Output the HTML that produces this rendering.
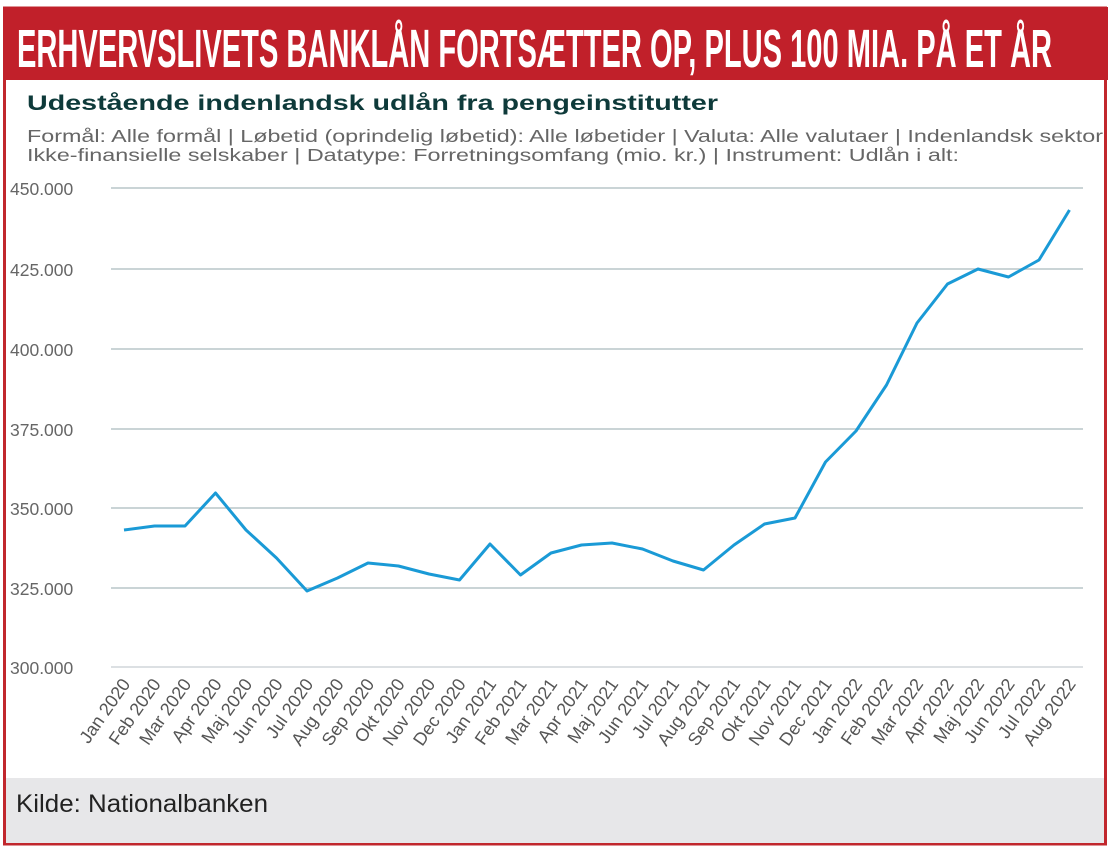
<!DOCTYPE html>
<html><head><meta charset="utf-8"><style>
html,body{margin:0;padding:0;background:#fff;}
svg{display:block;}
</style></head><body>
<svg width="1110" height="849" viewBox="0 0 1110 849" xmlns="http://www.w3.org/2000/svg">
<rect x="0" y="0" width="1110" height="849" fill="#fff"/>
<rect x="4.5" y="8" width="1101" height="836" fill="none" stroke="#c1272d" stroke-width="3"/>
<rect x="3" y="7" width="1105" height="73" fill="#c1202a"/>
<text x="17" y="67" font-family="'Liberation Sans Narrow','Liberation Sans',sans-serif" font-weight="bold" font-size="54" fill="#fff" textLength="1035" lengthAdjust="spacingAndGlyphs">ERHVERVSLIVETS BANKLÅN FORTSÆTTER OP, PLUS 100 MIA. PÅ ET ÅR</text>
<text x="27" y="110" font-family="'Liberation Sans',sans-serif" font-weight="bold" font-size="21" fill="#0e3a3a" textLength="691" lengthAdjust="spacingAndGlyphs">Udestående indenlandsk udlån fra pengeinstitutter</text>
<text x="27" y="142" font-family="'Liberation Sans',sans-serif" font-size="17.5" fill="#666" textLength="1076" lengthAdjust="spacingAndGlyphs">Formål: Alle formål | Løbetid (oprindelig løbetid): Alle løbetider | Valuta: Alle valutaer | Indenlandsk sektor</text>
<text x="27" y="161" font-family="'Liberation Sans',sans-serif" font-size="17.5" fill="#666" textLength="932" lengthAdjust="spacingAndGlyphs">Ikke-finansielle selskaber | Datatype: Forretningsomfang (mio. kr.) | Instrument: Udlån i alt:</text>
<g stroke="#b8c6c8" stroke-width="1.5">
<line x1="111" y1="188" x2="1083" y2="188"/>
<line x1="111" y1="269" x2="1083" y2="269"/>
<line x1="111" y1="349" x2="1083" y2="349"/>
<line x1="111" y1="429" x2="1083" y2="429"/>
<line x1="111" y1="508" x2="1083" y2="508"/>
<line x1="111" y1="588" x2="1083" y2="588"/>
<line x1="111" y1="667" x2="1083" y2="667" stroke="#d0d6da"/>
</g>
<g font-family="'Liberation Sans',sans-serif" font-size="17.5" fill="#666">
<text x="10" y="195">450.000</text>
<text x="10" y="276">425.000</text>
<text x="10" y="356">400.000</text>
<text x="10" y="436">375.000</text>
<text x="10" y="515">350.000</text>
<text x="10" y="595">325.000</text>
<text x="10" y="674">300.000</text>
</g>
<polyline fill="none" stroke="#1a9ad6" stroke-width="3" stroke-linejoin="round" points="124,530 154.5,526 185,526 215.5,493 246,530 276.5,558 307,591 337.5,578 368,563 398.5,566 429,574 459.5,580 490,544 520.5,575 551,553 581.5,545 612,543 642.5,549 673,561 703.5,570 734,545 764.5,524 795,518 825.5,462 856,431 886.5,385 917,323 947.5,284 978,269 1008.5,277 1039,260 1069.5,210"/>
<g font-family="'Liberation Sans',sans-serif" font-size="18" fill="#555" text-anchor="end">
<text transform="translate(131,684) rotate(-55)">Jan 2020</text>
<text transform="translate(161.5,684) rotate(-55)">Feb 2020</text>
<text transform="translate(192,684) rotate(-55)">Mar 2020</text>
<text transform="translate(222.5,684) rotate(-55)">Apr 2020</text>
<text transform="translate(253,684) rotate(-55)">Maj 2020</text>
<text transform="translate(283.5,684) rotate(-55)">Jun 2020</text>
<text transform="translate(314,684) rotate(-55)">Jul 2020</text>
<text transform="translate(344.5,684) rotate(-55)">Aug 2020</text>
<text transform="translate(375,684) rotate(-55)">Sep 2020</text>
<text transform="translate(405.5,684) rotate(-55)">Okt 2020</text>
<text transform="translate(436,684) rotate(-55)">Nov 2020</text>
<text transform="translate(466.5,684) rotate(-55)">Dec 2020</text>
<text transform="translate(497,684) rotate(-55)">Jan 2021</text>
<text transform="translate(527.5,684) rotate(-55)">Feb 2021</text>
<text transform="translate(558,684) rotate(-55)">Mar 2021</text>
<text transform="translate(588.5,684) rotate(-55)">Apr 2021</text>
<text transform="translate(619,684) rotate(-55)">Maj 2021</text>
<text transform="translate(649.5,684) rotate(-55)">Jun 2021</text>
<text transform="translate(680,684) rotate(-55)">Jul 2021</text>
<text transform="translate(710.5,684) rotate(-55)">Aug 2021</text>
<text transform="translate(741,684) rotate(-55)">Sep 2021</text>
<text transform="translate(771.5,684) rotate(-55)">Okt 2021</text>
<text transform="translate(802,684) rotate(-55)">Nov 2021</text>
<text transform="translate(832.5,684) rotate(-55)">Dec 2021</text>
<text transform="translate(863,684) rotate(-55)">Jan 2022</text>
<text transform="translate(893.5,684) rotate(-55)">Feb 2022</text>
<text transform="translate(924,684) rotate(-55)">Mar 2022</text>
<text transform="translate(954.5,684) rotate(-55)">Apr 2022</text>
<text transform="translate(985,684) rotate(-55)">Maj 2022</text>
<text transform="translate(1015.5,684) rotate(-55)">Jun 2022</text>
<text transform="translate(1046,684) rotate(-55)">Jul 2022</text>
<text transform="translate(1076.5,684) rotate(-55)">Aug 2022</text>
</g>
<rect x="6" y="778" width="1098" height="65" fill="#e7e7e9"/>
<text x="16" y="812" font-family="'Liberation Sans Narrow','Liberation Sans',sans-serif" font-size="25" fill="#222" textLength="252" lengthAdjust="spacingAndGlyphs">Kilde: Nationalbanken</text>
</svg>
</body></html>
